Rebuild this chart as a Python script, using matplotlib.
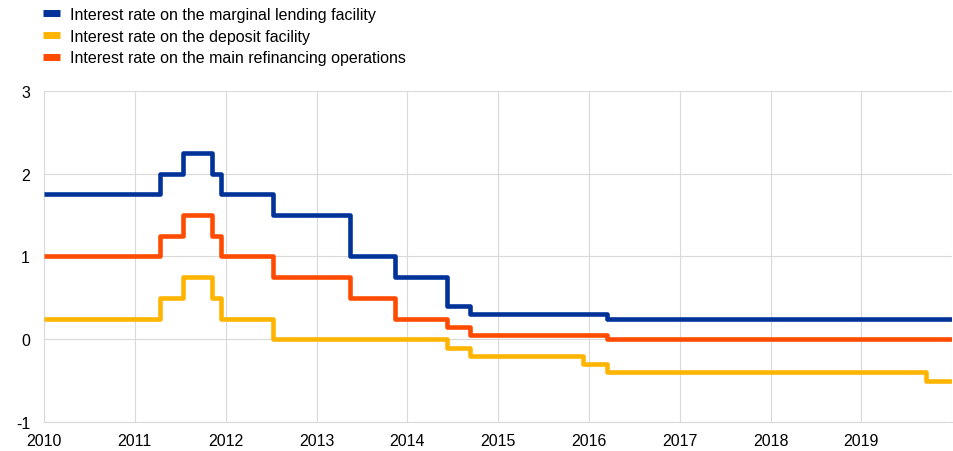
import matplotlib
matplotlib.use("Agg")
import matplotlib.pyplot as plt
import datetime as dt

plt.rcParams['font.family'] = ['Liberation Sans', 'DejaVu Sans']

change_dates = ["2010-01-01", "2011-04-13", "2011-07-13", "2011-11-09", "2011-12-14",
                "2012-07-11", "2013-05-15", "2013-11-13", "2014-06-11", "2014-09-10",
                "2015-12-09", "2016-03-16", "2019-09-18", "2020-01-01"]
marginal_lending = [1.75, 2.00, 2.25, 2.00, 1.75, 1.50, 1.00, 0.75, 0.40, 0.30, 0.30, 0.25, 0.25, 0.25]
deposit_facility = [0.25, 0.50, 0.75, 0.50, 0.25, 0.00, 0.00, 0.00, -0.10, -0.20, -0.30, -0.40, -0.50, -0.50]
main_refinancing = [1.00, 1.25, 1.50, 1.25, 1.00, 0.75, 0.50, 0.25, 0.15, 0.05, 0.05, 0.00, 0.00, 0.00]

labels = ["Interest rate on the marginal lending facility",
          "Interest rate on the deposit facility",
          "Interest rate on the main refinancing operations"]
colors = ["#003299", "#FFB400", "#FF4B00"]
years = list(range(2010, 2020))

dates = [dt.datetime.strptime(d, "%Y-%m-%d") for d in change_dates]

fig = plt.figure(figsize=(9.54, 4.52), dpi=100)
ax = fig.add_axes([0.0461, 0.0642, 0.9519, 0.7323])

series = [marginal_lending, deposit_facility, main_refinancing]
handles = []
for vals, c, lab in zip(series, colors, labels):
    h, = ax.step(dates, vals, where='post', color=c, lw=3.3, label=lab,
                 solid_joinstyle='round', solid_capstyle='butt', zorder=3)
    handles.append(h)

ax.set_xlim(dt.datetime(2010, 1, 1), dt.datetime(2020, 1, 1))
ax.set_ylim(-1, 3)
ax.set_yticks([-1, 0, 1, 2, 3])
ax.set_yticklabels(["-1", "0", "1", "2", "3"])
ax.set_xticks([dt.datetime(y, 1, 1) for y in years])
ax.set_xticklabels([str(y) for y in years])
ax.axvline(dt.datetime(2020, 1, 1), color="#d9d9d9", lw=0.8, zorder=0)

ax.grid(True, color="#d9d9d9", lw=0.8, zorder=0)
ax.set_axisbelow(True)
for s in ["top", "right"]:
    ax.spines[s].set_visible(False)
for s in ["left", "bottom"]:
    ax.spines[s].set_color("#d9d9d9")
    ax.spines[s].set_linewidth(0.8)
ax.tick_params(axis='both', length=0, labelsize=11.5, colors="#000000")
ax.tick_params(axis='y', pad=10)
ax.tick_params(axis='x', pad=8)

leg = fig.legend(handles=handles, labels=labels, loc='upper left',
                 bbox_to_anchor=(0.030, 1.014), frameon=False, fontsize=11.5,
                 handlelength=1.06, handletextpad=0.62, labelspacing=0.42)
for lh in leg.legend_handles:
    lh.set_linewidth(5)

fig.savefig("out.png", dpi=100)
